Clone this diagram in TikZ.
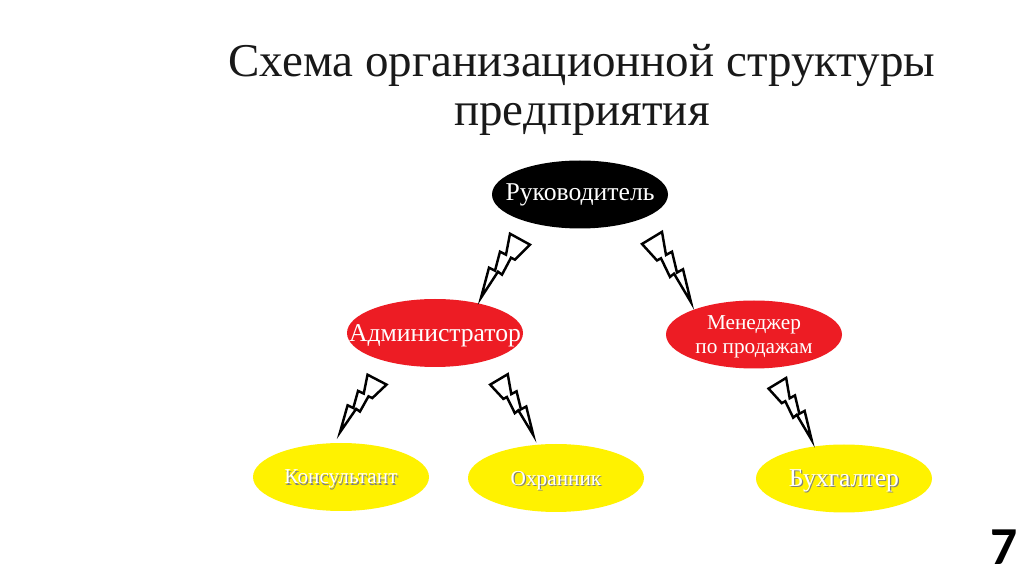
\documentclass[tikz,border=0pt]{standalone}
\usepackage{fontspec}
\setmainfont{Liberation Serif}
\newfontfamily\numfont{Carlito}
\usetikzlibrary{shapes.geometric}
\definecolor{postred}{HTML}{ED1C24}
\definecolor{postyellow}{HTML}{FFF200}
\newcommand{\shadowed}[1]{\leavevmode\rlap{\kern0.3pt\raisebox{-0.3pt}{\textcolor{black!50}{#1}}}#1}
\tikzset{
  post/.style={ellipse,minimum width=1.76cm,minimum height=0.68cm,inner sep=0pt,inner xsep=-0.45cm,text=white,align=center,text depth=0pt},
  bigtext/.style={font=\fontsize{7.3}{8}\selectfont},
  smalltext/.style={font=\fontsize{6.05}{6.6}\selectfont},
  bolt/.style={line width=0.7pt,line join=miter,
    to path={(\tikztotarget) -- ++(.08,.30) -- ++(.06,-.03) -- ++(.05,.19) -- ++(.06,-.03) -- ++(.04,.21)
      -- ++(.20,-.11) -- ++(-.15,-.15) -- ++(-.04,.02) -- ++(-.09,-.17) -- ++(-.04,.03) -- cycle}}
}
\begin{document}
\begin{tikzpicture}
\useasboundingbox [fill=white] (0,0) rectangle (10.24,5.74);
\node (title) at (5.82,4.84) [align=center,text=black!90,font=\fontsize{13.37}{13.9}\selectfont] {Схема организационной структуры\\предприятия};
\node (ruk) at (5.80,3.795) [post,fill=black,bigtext,text depth=1.6pt] {Руководитель};
\node (adm) at (4.35,2.41) [post,fill=postred,bigtext] {Администратор};
\node (men) at (7.54,2.395) [post,fill=postred,smalltext] {Менеджер\\по продажам};
\node (kons) at (3.41,0.97) [post,fill=postyellow,smalltext] {\shadowed{Консультант}};
\node (okh) at (5.56,0.96) [post,fill=postyellow,smalltext] {\shadowed{Охранник}};
\node (bukh) at (8.44,0.955) [post,fill=postyellow,bigtext] {\shadowed{Бухгалтер}};
\node (num) at (10.045,0.265) [inner sep=0pt,font=\numfont\bfseries\fontsize{15.2}{18}\selectfont] {7};
% tips of the bolts
\coordinate (tipadm) at (4.81,2.763);
\coordinate (tipmen) at (6.91,2.717);
\coordinate (tipkons) at (3.40,1.417);
\coordinate (tipokh) at (5.333,1.39);
\coordinate (tipbukh) at (8.117,1.34);
\draw [bolt] (ruk) to (tipadm);
\draw [bolt,xscale=-1,yscale=1.1] (ruk) to (tipmen);
\draw [bolt,xscale=0.95,yscale=0.9] (adm) to (tipkons);
\draw [bolt,xscale=-0.88,yscale=0.95] (adm) to (tipokh);
\draw [bolt,xscale=-0.88,yscale=0.97] (men) to (tipbukh);
\end{tikzpicture}
\end{document}
